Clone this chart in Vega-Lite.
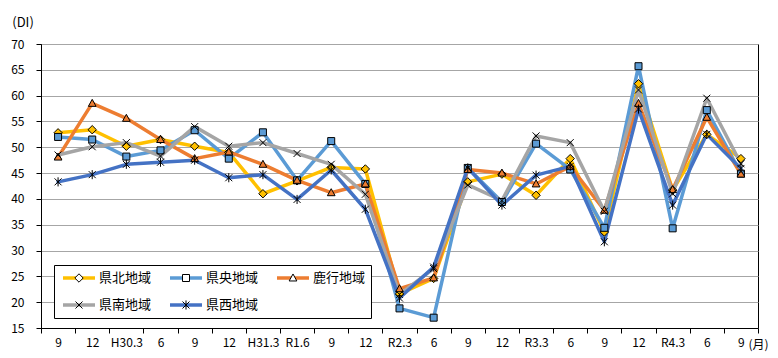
{
"$schema": "https://vega.github.io/schema/vega-lite/v6.json",
"width": 717, "height": 284,
"autosize": {"type": "none"},
"padding": {"left": 41, "top": 44, "right": 20, "bottom": 30},
"background": "white",
"config": {"view": {"stroke": "black", "strokeWidth": 1}, "font": "Noto Sans CJK JP"},
"data": {"values": [
{"p":"H29.9","r":"県北地域","v":52.8},{"p":"H29.12","r":"県北地域","v":53.4},{"p":"H30.3","r":"県北地域","v":50.2},{"p":"H30.6","r":"県北地域","v":51.5},{"p":"H30.9","r":"県北地域","v":50.2},{"p":"H30.12","r":"県北地域","v":49.0},{"p":"H31.3","r":"県北地域","v":41.0},{"p":"R1.6","r":"県北地域","v":43.5},{"p":"R1.9","r":"県北地域","v":46.1},{"p":"R1.12","r":"県北地域","v":45.8},{"p":"R2.3","r":"県北地域","v":21.6},{"p":"R2.6","r":"県北地域","v":24.6},{"p":"R2.9","r":"県北地域","v":43.3},{"p":"R2.12","r":"県北地域","v":44.8},{"p":"R3.3","r":"県北地域","v":40.7},{"p":"R3.6","r":"県北地域","v":47.8},{"p":"R3.9","r":"県北地域","v":33.6},{"p":"R3.12","r":"県北地域","v":62.3},{"p":"R4.3","r":"県北地域","v":41.7},{"p":"R4.6","r":"県北地域","v":52.5},{"p":"R4.9","r":"県北地域","v":47.8},
{"p":"H29.9","r":"県央地域","v":52.0},{"p":"H29.12","r":"県央地域","v":51.5},{"p":"H30.3","r":"県央地域","v":48.2},{"p":"H30.6","r":"県央地域","v":49.4},{"p":"H30.9","r":"県央地域","v":53.3},{"p":"H30.12","r":"県央地域","v":47.8},{"p":"H31.3","r":"県央地域","v":52.9},{"p":"R1.6","r":"県央地域","v":43.6},{"p":"R1.9","r":"県央地域","v":51.2},{"p":"R1.12","r":"県央地域","v":42.9},{"p":"R2.3","r":"県央地域","v":18.8},{"p":"R2.6","r":"県央地域","v":17.0},{"p":"R2.9","r":"県央地域","v":46.0},{"p":"R2.12","r":"県央地域","v":39.4},{"p":"R3.3","r":"県央地域","v":50.7},{"p":"R3.6","r":"県央地域","v":45.7},{"p":"R3.9","r":"県央地域","v":34.4},{"p":"R3.12","r":"県央地域","v":65.7},{"p":"R4.3","r":"県央地域","v":34.3},{"p":"R4.6","r":"県央地域","v":57.2},{"p":"R4.9","r":"県央地域","v":44.9},
{"p":"H29.9","r":"鹿行地域","v":48.1},{"p":"H29.12","r":"鹿行地域","v":58.5},{"p":"H30.3","r":"鹿行地域","v":55.6},{"p":"H30.6","r":"鹿行地域","v":51.5},{"p":"H30.9","r":"鹿行地域","v":47.8},{"p":"H30.12","r":"鹿行地域","v":49.1},{"p":"H31.3","r":"鹿行地域","v":46.7},{"p":"R1.6","r":"鹿行地域","v":43.6},{"p":"R1.9","r":"鹿行地域","v":41.2},{"p":"R1.12","r":"鹿行地域","v":42.9},{"p":"R2.3","r":"鹿行地域","v":22.6},{"p":"R2.6","r":"鹿行地域","v":24.7},{"p":"R2.9","r":"鹿行地域","v":45.7},{"p":"R2.12","r":"鹿行地域","v":45.0},{"p":"R3.3","r":"鹿行地域","v":42.9},{"p":"R3.6","r":"鹿行地域","v":46.3},{"p":"R3.9","r":"鹿行地域","v":37.8},{"p":"R3.12","r":"鹿行地域","v":58.5},{"p":"R4.3","r":"鹿行地域","v":41.8},{"p":"R4.6","r":"鹿行地域","v":55.8},{"p":"R4.9","r":"鹿行地域","v":44.8},
{"p":"H29.9","r":"県南地域","v":48.5},{"p":"H29.12","r":"県南地域","v":50.1},{"p":"H30.3","r":"県南地域","v":50.9},{"p":"H30.6","r":"県南地域","v":48.3},{"p":"H30.9","r":"県南地域","v":54.0},{"p":"H30.12","r":"県南地域","v":50.2},{"p":"H31.3","r":"県南地域","v":50.9},{"p":"R1.6","r":"県南地域","v":48.8},{"p":"R1.9","r":"県南地域","v":46.7},{"p":"R1.12","r":"県南地域","v":40.9},{"p":"R2.3","r":"県南地域","v":21.5},{"p":"R2.6","r":"県南地域","v":26.5},{"p":"R2.9","r":"県南地域","v":42.7},{"p":"R2.12","r":"県南地域","v":39.7},{"p":"R3.3","r":"県南地域","v":52.2},{"p":"R3.6","r":"県南地域","v":50.9},{"p":"R3.9","r":"県南地域","v":37.6},{"p":"R3.12","r":"県南地域","v":61.1},{"p":"R4.3","r":"県南地域","v":41.0},{"p":"R4.6","r":"県南地域","v":59.5},{"p":"R4.9","r":"県南地域","v":46.8},
{"p":"H29.9","r":"県西地域","v":43.3},{"p":"H29.12","r":"県西地域","v":44.7},{"p":"H30.3","r":"県西地域","v":46.7},{"p":"H30.6","r":"県西地域","v":47.1},{"p":"H30.9","r":"県西地域","v":47.5},{"p":"H30.12","r":"県西地域","v":44.1},{"p":"H31.3","r":"県西地域","v":44.7},{"p":"R1.6","r":"県西地域","v":39.9},{"p":"R1.9","r":"県西地域","v":45.6},{"p":"R1.12","r":"県西地域","v":38.0},{"p":"R2.3","r":"県西地域","v":20.8},{"p":"R2.6","r":"県西地域","v":26.8},{"p":"R2.9","r":"県西地域","v":46.0},{"p":"R2.12","r":"県西地域","v":38.8},{"p":"R3.3","r":"県西地域","v":44.6},{"p":"R3.6","r":"県西地域","v":46.3},{"p":"R3.9","r":"県西地域","v":31.7},{"p":"R3.12","r":"県西地域","v":57.4},{"p":"R4.3","r":"県西地域","v":38.8},{"p":"R4.6","r":"県西地域","v":52.5},{"p":"R4.9","r":"県西地域","v":45.9}
]},
"encoding": {
  "x": {"field": "p", "type": "nominal", "sort": null,
    "scale": {"paddingInner": 0, "paddingOuter": 0},
    "axis": {"title": "(月)", "titleX": 717, "titleY": 16, "titleAngle": 0, "titleAlign": "center", "titleBaseline": "middle", "titleFontSize": 12, "titleFontWeight": "normal", "titleColor": "black",
      "labelAngle": 0, "labelExpr": "indexof(['H30.3','H31.3','R1.6','R2.3','R3.3','R4.3'], datum.value) >= 0 ? datum.value : split(datum.value, '.')[1]",
      "tickBand": "extent", "tickSize": 5, "tickColor": "black", "domainColor": "black", "labelPadding": 4, "labelFontSize": 12, "labelColor": "black", "grid": false}},
  "y": {"field": "v", "type": "quantitative",
    "scale": {"domain": [15, 70], "nice": false, "zero": false},
    "axis": {"values": [15,20,25,30,35,40,45,50,55,60,65,70], "title": "(DI)", "titleAngle": 0, "titleX": -18.5, "titleY": -22, "titleAlign": "center", "titleBaseline": "middle", "titleFontSize": 13, "titleFontWeight": "normal", "titleColor": "black",
      "grid": true, "gridColor": "#A6A6A6", "domainColor": "black", "tickColor": "black", "tickSize": 5, "labelPadding": 12, "labelFontSize": 12, "labelColor": "black"}}
},
"layer": [
  {"mark": {"type": "line", "strokeWidth": 3.5, "strokeJoin": "round", "strokeCap": "round"},
   "encoding": {"color": {"field": "r", "type": "nominal",
     "scale": {"domain": ["県北地域","県央地域","鹿行地域","県南地域","県西地域"], "range": ["#FFC000","#5B9BD5","#ED7D31","#A5A5A5","#4472C4"]},
     "legend": {"orient": "none", "legendX": 13, "legendY": 221, "title": null, "direction": "horizontal", "columns": 3, "symbolType": "stroke", "symbolSize": 1024, "symbolStrokeWidth": 3.5, "symbolOffset": 2, "clipHeight": 16, "labelOffset": 2, "labelFontSize": 13, "labelColor": "black", "labelLimit": 200, "columnPadding": 14, "rowPadding": 11, "padding": 5, "strokeColor": "black", "fillColor": "white", "zindex": 1}}}},
  {"mark": {"type": "point", "filled": true, "size": 1225, "stroke": "black", "strokeWidth": 1, "opacity": 1},
   "encoding": {
     "fill": {"field": "r", "type": "nominal",
       "scale": {"domain": ["県北地域","県央地域","鹿行地域","県南地域","県西地域"], "range": ["#FFC000","#5B9BD5","#ED7D31","#A5A5A5","#4472C4"]},
       "legend": null},
     "shape": {"field": "r", "type": "nominal", "sort": ["県北地域","県央地域","鹿行地域","県南地域","県西地域"],
       "scale": {"range": ["M0,-0.24L0.24,0L0,0.24L-0.24,0Z","M-0.2,-0.2L0.2,-0.2L0.2,0.2L-0.2,0.2Z","M0,-0.23L0.22,0.17L-0.22,0.17Z","M-0.2,-0.2L0.2,0.2M-0.2,0.2L0.2,-0.2","M-0.2,-0.2L0.2,0.2M-0.2,0.2L0.2,-0.2M0,-0.26L0,0.26"]},
       "legend": {"orient": "none", "legendX": 13, "legendY": 221, "title": null, "direction": "horizontal", "columns": 3, "symbolSize": 1225, "symbolStrokeWidth": 1, "symbolFillColor": "white", "symbolStrokeColor": "black", "symbolOffset": 2, "clipHeight": 16, "labelOffset": 2, "labelFontSize": 13, "labelOpacity": 0, "labelLimit": 200, "columnPadding": 14, "rowPadding": 11, "padding": 5, "zindex": 2}}
   }}
]
}
